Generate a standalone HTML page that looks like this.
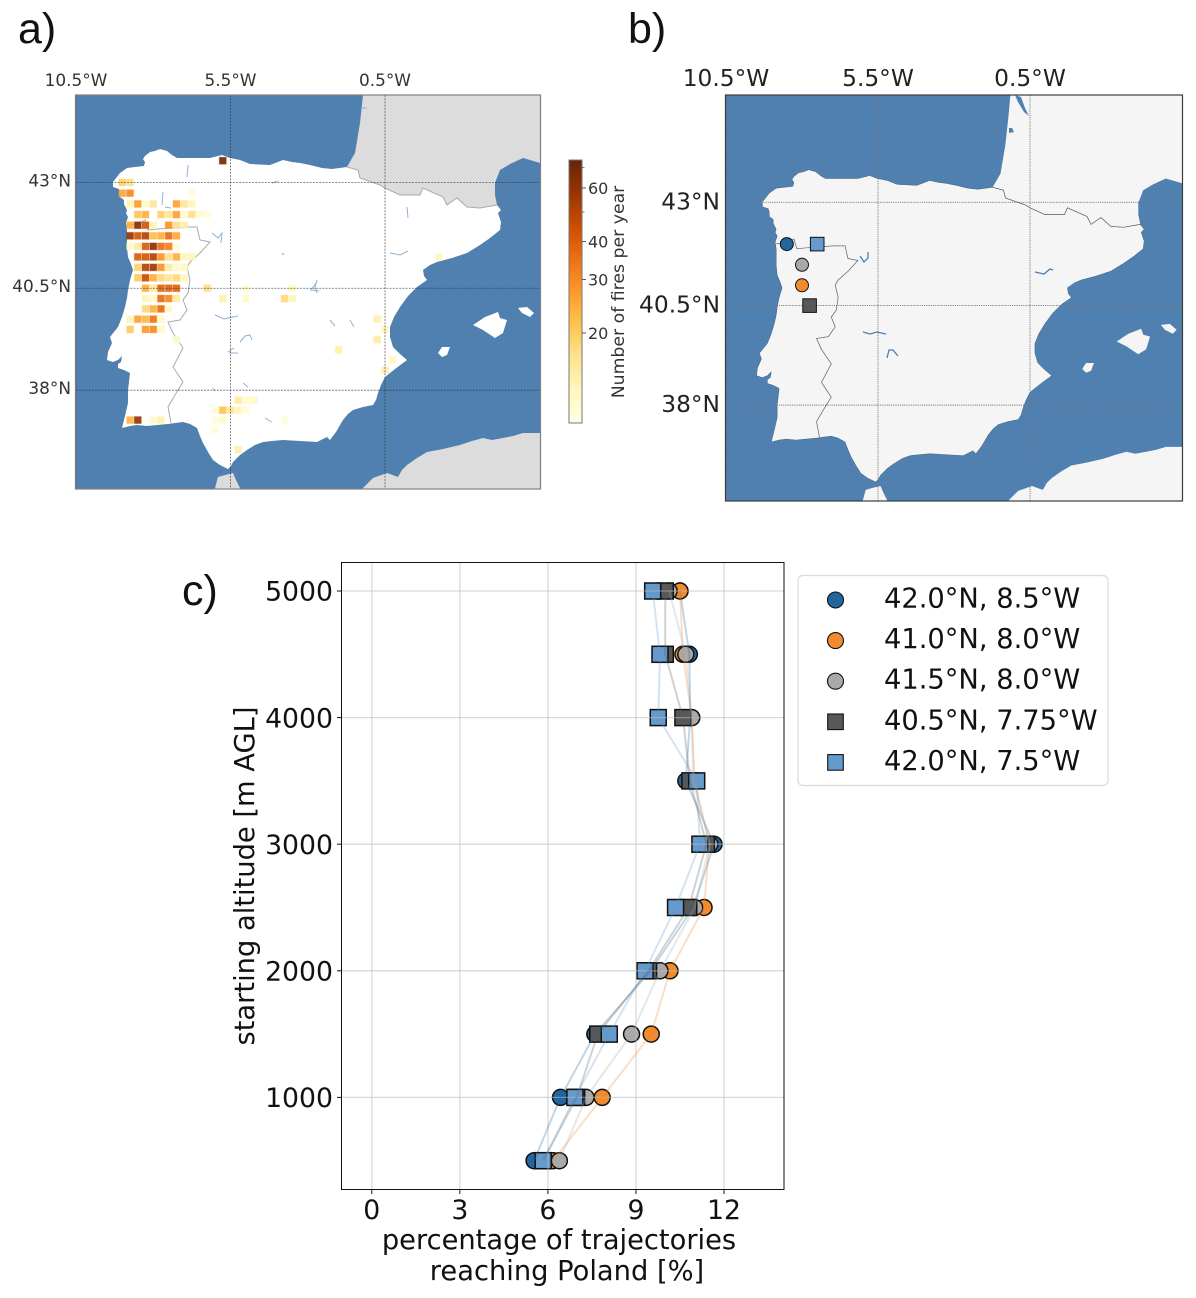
<!DOCTYPE html>
<html lang="en">
<head>
<meta charset="utf-8">
<title>Iberian fires and trajectories</title>
<style>
html,body{margin:0;padding:0;background:#fff;width:1196px;height:1298px;overflow:hidden}
svg{display:block;font-family:"DejaVu Sans","Liberation Sans",sans-serif}
.letter{font-family:"Liberation Sans",sans-serif;font-size:43px;fill:#111}
</style>
</head>
<body>
<svg id="fig" xmlns="http://www.w3.org/2000/svg" width="1196" height="1298" viewBox="0 0 1196 1298">
<defs>
  <clipPath id="clipA"><rect x="76" y="95" width="464" height="394"/></clipPath>
  <clipPath id="clipB"><rect x="726" y="95" width="456" height="406"/></clipPath>
  <linearGradient id="cbGrad" x1="0" y1="1" x2="0" y2="0"></linearGradient>
  <path id="iberia" d="M347,167 L332,169 L322,168 L310,165 L300,163 L292,162 L283,160 L270,165 L250,164 L240,160 L230,158 L222,155 L210,158 L187,158 L177,158 L172,155 L167,151 L160,149 L155,151 L150,152 L145,156 L143,159 L145,162 L144,166 L135,167 L127,168 L120,173 L113,182 L113,187 L119,189 L120,193 L120,197 L124,200 L124,204 L127,210 L126,213 L128,217 L126,223 L127,230 L127,237 L127,247 L128,257 L131,264 L133,270 L130,280 L128,290 L127,298 L125,307 L122,317 L118,327 L110,337 L112,343 L108,352 L107,360 L113,362 L118,360 L122,356 L121,362 L118,364 L118,368 L124,370 L130,373 L129,382 L128,390 L128,403 L125,416 L122,428 L130,426 L137,425 L147,426 L157,425 L168,424 L175,423 L183,422 L190,424 L197,428 L200,436 L203,443 L208,452 L213,460 L220,465 L228,469 L231,466 L233,462 L240,455 L247,450 L255,445 L263,442 L272,441 L283,440 L300,441 L317,442 L327,437 L330,440 L336,432 L343,420 L348,414 L353,410 L363,407 L373,405 L376,400 L378,393 L381,385 L385,377 L395,369 L407,360 L400,354 L393,347 L390,337 L390,327 L394,317 L400,307 L408,296 L417,287 L427,280 L424,276 L423,270 L430,265 L437,262 L452,258 L467,253 L480,245 L490,238 L500,230 L501,222 L498,213 L501,210 L497,205 L480,208 L467,207 L457,198 L447,205 L443,197 L423,188 L420,195 L400,195 L385,188 L380,185 L360,178 L358,170 Z"/>
  <path id="france" d="M365,73 L363,95 L360,123 L355,153 L347,167 L358,170 L360,178 L380,185 L385,188 L400,195 L420,195 L423,188 L443,197 L447,205 L457,198 L467,207 L480,208 L497,205 L495,195 L495,183 L500,170 L510,164 L523,158 L530,160 L540,163 L560,163 L560,73 Z"/>
  <path id="africa" d="M215,495 L215,488 L218,477 L225,475 L233,473 L236,480 L240,488 L241,495 Z M358,495 L363,488 L373,478 L387,473 L398,477 L402,470 L407,465 L417,458 L427,452 L443,449 L460,445 L472,441 L483,438 L492,440 L503,438 L513,436 L523,433 L560,433 L560,495 Z"/>
  <path id="balearics" d="M473,325 L485,317 L498,312 L500,318 L507,320 L503,333 L495,338 L483,330 Z M518,308 L527,307 L534,313 L530,317 L522,313 Z M438,353 L442,347 L450,347 L447,355 L442,357 Z"/>
  <path id="borders" d="M347,167 L358,170 L360,178 L380,185 L385,188 L400,195 L420,195 L423,188 L443,197 L447,205 L457,198 L467,207 L480,208 L497,205 M127,225 L138,224 L145,220 L148,230 L158,229 L170,228 L185,227 L197,227 L200,240 L210,242 L200,253 L190,262 L187,267 L190,280 L188,293 L183,300 L187,310 L180,320 L168,322 L173,333 L183,348 L173,367 L183,382 L178,390 L168,407 L171,423"/>
</defs>

<g>
  <text class="letter" x="18" y="43">a)</text>
  <g clip-path="url(#clipA)">
    <rect x="76" y="95" width="464" height="394" fill="#5080b0"/>
    <use href="#france" fill="#dcdcdc"/>
    <use href="#africa" fill="#dcdcdc"/>
    <use href="#iberia" fill="#ffffff"/>
    <use href="#balearics" fill="#ffffff"/>
    <use href="#borders" fill="none" stroke="#aaaaaa" stroke-width="1"/>
    <path d="M188,165 L187,177 M163,192 L162,205 M165,207 L171,208 M212,233 L218,238 L222,233 L221,243 M282,253 L284,255 M278,181 L272,183 M215,315 L224,319 L238,316 M240,342 L245,336 L250,335 L252,340 M228,352 L234,348 M229,353 L238,353 M317,280 L315,287 L317,293 M390,253 L400,255 L408,251 M317,282 L311,290 L319,291 M330,320 L335,326 M350,320 L354,327 M407,207 L408,218 M243,383 L248,387 M265,418 L272,422 M213,388 L215,391 M362,108 L367,108" fill="none" stroke="#8fb2d4" stroke-width="1"/>
    <g id="firesLayer"></g>
    <g id="gridA"></g>
  </g>
  <rect x="75.5" y="95" width="465" height="394" fill="none" stroke="#808080" stroke-width="1.2"/>
  <g id="labelsA"></g>
  <rect x="569" y="160" width="13" height="263" fill="url(#cbGrad)" stroke="#777" stroke-width="1"/>
  <g id="cbTicks"></g>
  <text x="624" y="292" transform="rotate(-90 624 292)" text-anchor="middle" font-size="17.3" fill="#333">Number of fires per year</text>
</g>

<g>
  <text class="letter" x="628" y="43">b)</text>
  <g clip-path="url(#clipB)">
    <rect x="726" y="95" width="456" height="406" fill="#5080b0"/>
    <g transform="matrix(.984 0 0 .976 651.2 24.3)">
      <use href="#france" fill="#f5f5f5"/>
      <use href="#africa" fill="#f5f5f5"/>
      <use href="#iberia" fill="#f5f5f5" stroke="#3f5f80" stroke-width=".5"/>
      <use href="#balearics" fill="#f5f5f5"/>
      <use href="#borders" fill="none" stroke="#666" stroke-width=".75"/>
    </g>
    <path d="M1015,95 L1021,97 L1025,108 L1029,116 L1024,112 L1018,102 Z M1009,128 L1012,128 L1014,132 L1009,133 Z" fill="#5080b0"/>
    <path d="M860,256 L864,262 L868,258 L868,252 M863,332 L870,334 L877,332 L886,334 M887,358 L889,350 L893,350 L898,356 M1035,272 L1044,274 L1050,269 L1053,270" fill="none" stroke="#4f7fae" stroke-width="1.3"/>
    <g id="gridB"></g>
    <g id="sitesLayer"></g>
  </g>
  <rect x="725.5" y="95" width="457" height="406" fill="none" stroke="#3c3c3c" stroke-width="1.2"/>
  <g id="labelsB"></g>
</g>

<g>
  <text class="letter" x="182" y="605">c)</text>
  <g id="markersC"></g>
  <g id="gridC"></g>
  <g id="linesC"></g>
  <rect x="341.5" y="562.5" width="442.5" height="627" fill="none" stroke="#111" stroke-width="1"/>
  <g id="ticksC"></g>
  <text x="254" y="876" transform="rotate(-90 254 876)" text-anchor="middle" font-size="27.3" fill="#111">starting altitude [m AGL]</text>
  <text x="559" y="1249" text-anchor="middle" font-size="27.3" fill="#111">percentage of trajectories</text>
  <text x="567" y="1280" text-anchor="middle" font-size="27.3" fill="#111">reaching Poland [%]</text>
  <rect x="798" y="575.5" width="310" height="210" rx="5" fill="#fff" stroke="#dcdcdc" stroke-width="1.2"/>
  <g id="legendC"></g>
</g>
</svg>

<script>
/* ---- panel a data ---- */
const fireLats = [43.5, 43, 42.75, 42.5, 42.25, 42, 41.75, 41.5, 41.25, 41, 40.75, 40.5, 40.25, 40, 39.75, 39.5, 39.25, 39, 38.75, 38.5, 37.75, 37.5, 37.25, 37, 36.5];
const fireLons = [
  [-5.75],
  [-9, -8.75],
  [-9, -8.75, -6.75],
  [-8.75, -8.5, -8.25, -8, -7.25, -7, -6.75],
  [-8.5, -8.25, -7.75, -7.5, -7.25, -7, -6.75, -6.5, -6.25],
  [-8.75, -8.5, -8.25, -8, -7.5, -7.25, -7],
  [-8.75, -8.5, -8.25, -8, -7.75, -7.5, -7.25],
  [-8.75, -8.5, -8.25, -8, -7.75, -7.5, -7.25],
  [-8.5, -8.25, -8, -7.75, -7.5, -7.25, -7, -6.75, 1.25],
  [-8.5, -8.25, -8, -7.75, -7.5, -7.25, -7],
  [-8.5, -8.25, -8, -7.75, -7.5, -7.25, -7],
  [-8.25, -8, -7.75, -7.5, -7.25, -6.25, -5, -3.5],
  [-8.25, -8, -7.75, -7.5, -7.25, -5.75, -5, -3.75, -3.5],
  [-8.25, -8, -7.75, -7.5],
  [-8.75, -8.5, -8.25, -8, -7.75, -0.75],
  [-8.75, -8.25, -8, -7.75, -0.5],
  [-7.25, -0.75],
  [-2],
  [-0.25],
  [-0.5],
  [-5.25, -5, -4.75],
  [-6, -5.75, -5.5, -5.25, -5],
  [-8.75, -8.5, -8, -7.75, -6, -5.75, -3.75],
  [-6],
  [-5.25]
];
const fireValues = [
  [68],
  [19, 17],
  [25, 30, 11],
  [13, 27, 12, 16, 26, 16, 13],
  [21, 24, 19, 16, 26, 11.5, 17, 11.5, 10.5],
  [24, 62, 42, 13, 28, 17, 14],
  [58, 42, 50, 22, 24, 36, 25],
  [12, 15, 40, 62, 36, 32, 11],
  [40, 42, 50, 28, 17, 24, 13, 13, 12.5],
  [19, 50, 56, 28, 15, 12, 12],
  [20, 46, 24, 18, 16, 18, 13],
  [24, 15, 38, 38, 38, 17, 11, 12],
  [13, 11.5, 36, 30, 15, 14, 12, 18, 13],
  [18, 24, 36, 12],
  [13, 26, 23, 34, 12, 14],
  [20, 27, 30, 12, 13],
  [12, 15],
  [14],
  [12.5],
  [14],
  [15, 11.5, 12],
  [11, 21, 16, 13, 11],
  [23, 58, 11.5, 14, 10.5, 12, 10.5],
  [11],
  [14]
];
const colorStops = ['#ffffe5', '#fff7bc', '#fee391', '#fec44f', '#fe9929', '#ec7014', '#cc4c02', '#993404', '#662506'];
const colorbarMajorTicks = [20, 30, 40, 60];
const colorbarMinorTicks = [50, 70];
const mapLonTicks = [-10.5, -5.5, -0.5];
const mapLonLabels = ['10.5°W', '5.5°W', '0.5°W'];
const mapLatTicks = [43, 40.5, 38];
const mapLatLabels = ['43°N', '40.5°N', '38°N'];

/* ---- panel b / c data ---- */
const seriesNames = ['42.0°N, 8.5°W', '41.0°N, 8.0°W', '41.5°N, 8.0°W', '40.5°N, 7.75°W', '42.0°N, 7.5°W'];
const seriesColors = ['#20679f', '#f28a2e', '#a9a9a9', '#585858', '#6699cc'];
const seriesShapes = ['circle', 'circle', 'circle', 'square', 'square'];
const siteLats = [42, 41, 41.5, 40.5, 42];
const siteLons = [-8.5, -8, -8, -7.75, -7.5];
const altitudes = [5000, 4500, 4000, 3500, 3000, 2500, 2000, 1500, 1000, 500];
const pctBlueCircle = [10.5, 10.82, 10.85, 10.7, 11.66, 10.95, 9.5, 7.6, 6.43, 5.53];
const pctOrangeCircle = [10.5, 10.6, 10.9, 11.0, 11.5, 11.32, 10.16, 9.52, 7.85, 6.18];
const pctGreyCircle = [10.13, 10.7, 10.9, 10.95, 11.52, 11.0, 9.82, 8.85, 7.3, 6.39];
const pctDarkSquare = [10.0, 10.0, 10.6, 10.84, 11.4, 10.8, 9.43, 7.7, 6.98, 5.84];
const pctBlueSquare = [9.57, 9.82, 9.76, 11.07, 11.18, 10.35, 9.31, 8.09, 6.92, 5.84];
const seriesValues = [pctBlueCircle, pctOrangeCircle, pctGreyCircle, pctDarkSquare, pctBlueSquare];
const xTicks = [0, 3, 6, 9, 12];
const yTicks = [1000, 2000, 3000, 4000, 5000];

/* ---- axis functions ---- */
const SVGNS = 'http://www.w3.org/2000/svg';
const merc = lat => Math.log(Math.tan(Math.PI / 4 + lat * Math.PI / 360));
const M43 = merc(43);
const axA = lon => 76 + (lon + 10.5) * 30.9;
const ayA = lat => 182.4 + (M43 - merc(lat)) * 1809;
const axB = lon => 726 + (lon + 10.5) * 30.4;
const ayB = lat => 202.3 + (M43 - merc(lat)) * 1766;
const cbY = v => 333 - Math.log(v / 20) * 132;
const cx = p => 371.8 + p * 29.35;
const cy = a => 591 + (5000 - a) * 0.1266;

function hexRgb(h) { return [1, 3, 5].map(i => parseInt(h.substr(i, 2), 16)); }
function fireColor(v) {
  const t = Math.max(0, Math.min(1, Math.log(v / 10) / Math.log(7.4))) * (colorStops.length - 1);
  const i = Math.min(colorStops.length - 2, Math.floor(t));
  const a = hexRgb(colorStops[i]), b = hexRgb(colorStops[i + 1]);
  const f = t - i;
  return 'rgb(' + a.map((c, k) => Math.round(c + (b[k] - c) * f)).join(',') + ')';
}
function make(tag, parentId, attrs, text) {
  const e = document.createElementNS(SVGNS, tag);
  for (const k in attrs) e.setAttribute(k, attrs[k]);
  if (text !== undefined) e.textContent = text;
  document.getElementById(parentId).appendChild(e);
  return e;
}

/* colorbar gradient */
colorStops.forEach((c, i) => {
  const s = document.createElementNS(SVGNS, 'stop');
  s.setAttribute('offset', (i / (colorStops.length - 1)));
  s.setAttribute('stop-color', c);
  document.getElementById('cbGrad').appendChild(s);
});

/* fires */
fireLats.forEach((lat, r) => {
  fireLons[r].forEach((lon, i) => {
    const c = fireColor(fireValues[r][i]);
    const cell = make('rect', 'firesLayer', { x: axA(lon) - 3.5, y: ayA(lat) - 3.5, width: 7, height: 7, fill: c, stroke: c, 'stroke-opacity': 0.3, 'stroke-width': 1, opacity: 0.92 });
    
    
  });
});

/* map grids and labels */
mapLonTicks.forEach((lon, i) => {
  const g1 = make('line', 'gridA', { x1: axA(lon), x2: axA(lon), y1: 95, y2: 489, stroke: '#333', 'stroke-opacity': 0.75, 'stroke-width': 0.8, 'stroke-dasharray': '2 1.2' });
  
  
  const t1 = make('text', 'labelsA', { x: axA(lon), y: 86, 'text-anchor': 'middle', 'font-size': 16.9, fill: '#333' }, mapLonLabels[i]);
  
  
  const g2 = make('line', 'gridB', { x1: axB(lon), x2: axB(lon), y1: 95, y2: 501, stroke: '#777', 'stroke-width': 0.9, 'stroke-dasharray': '1.2 1' });
  
  
  const t2 = make('text', 'labelsB', { x: axB(lon), y: 86, 'text-anchor': 'middle', 'font-size': 23.3, fill: '#222' }, mapLonLabels[i]);
  
  
});
mapLatTicks.forEach((lat, i) => {
  const g1 = make('line', 'gridA', { x1: 76, x2: 540, y1: ayA(lat), y2: ayA(lat), stroke: '#333', 'stroke-opacity': 0.75, 'stroke-width': 0.8, 'stroke-dasharray': '2 1.2' });
  
  
  const t1 = make('text', 'labelsA', { x: 71, y: ayA(lat) + 4, 'text-anchor': 'end', 'font-size': 16.9, fill: '#333' }, mapLatLabels[i]);
  
  
  const g2 = make('line', 'gridB', { x1: 726, x2: 1182, y1: ayB(lat), y2: ayB(lat), stroke: '#777', 'stroke-width': 0.9, 'stroke-dasharray': '1.2 1' });
  
  
  const t2 = make('text', 'labelsB', { x: 720, y: ayB(lat) + 7, 'text-anchor': 'end', 'font-size': 23.3, fill: '#222' }, mapLatLabels[i]);
  
  
});

/* colorbar ticks */
colorbarMajorTicks.forEach(v => {
  const l = make('line', 'cbTicks', { x1: 582, x2: 586, y1: cbY(v), y2: cbY(v), stroke: '#555', 'stroke-width': 1 });
  
  
  const t = make('text', 'cbTicks', { x: 588, y: cbY(v) + 6, 'font-size': 16, fill: '#333' }, String(v));
  
  
});
colorbarMinorTicks.forEach(v => {
  const l = make('line', 'cbTicks', { x1: 582, x2: 584.5, y1: cbY(v), y2: cbY(v), stroke: '#555', 'stroke-width': 0.8 });
  
  
});

/* marker helper */
function marker(parentId, shape, x, y, half, color, sw) {
  if (shape === 'circle') {
    return make('circle', parentId, { cx: x, cy: y, r: half, fill: color, stroke: '#111', 'stroke-width': sw });
  }
  return make('rect', parentId, { x: x - half, y: y - half, width: 2 * half, height: 2 * half, fill: color, stroke: '#111', 'stroke-width': sw });
}

/* panel b site markers */
seriesNames.forEach((n, i) => {
  const m = marker('sitesLayer', seriesShapes[i], axB(siteLons[i]), ayB(siteLats[i]), seriesShapes[i] === 'circle' ? 6.5 : 6.8, seriesColors[i], 1);
  
  
});

/* panel c markers */
seriesValues.forEach((vals, s) => {
  vals.forEach((v, i) => {
    const m = marker('markersC', seriesShapes[s], cx(v), cy(altitudes[i]), 8, seriesColors[s], 1.5);
    
    
  });
});

/* panel c lines */
seriesValues.forEach((vals, s) => {
  const pts = vals.map((v, i) => cx(v).toFixed(1) + ',' + cy(altitudes[i]).toFixed(1)).join(' ');
  const l = make('polyline', 'linesC', { points: pts, fill: 'none', stroke: seriesColors[s], 'stroke-opacity': 0.28, 'stroke-width': 2 });
  
  
});

/* panel c grid and ticks */
xTicks.forEach(v => {
  const g = make('line', 'gridC', { x1: cx(v), x2: cx(v), y1: 563, y2: 1189, stroke: '#bbb', 'stroke-opacity': 0.55, 'stroke-width': 1.3 });
  
  
  const k = make('line', 'ticksC', { x1: cx(v), x2: cx(v), y1: 1189.5, y2: 1194, stroke: '#111', 'stroke-width': 1 });
  
  
  const t = make('text', 'ticksC', { x: cx(v), y: 1219, 'text-anchor': 'middle', 'font-size': 26.7, fill: '#111' }, String(v));
  
  
});
yTicks.forEach(v => {
  const g = make('line', 'gridC', { x1: 342, x2: 784, y1: cy(v), y2: cy(v), stroke: '#bbb', 'stroke-opacity': 0.55, 'stroke-width': 1.3 });
  
  
  const k = make('line', 'ticksC', { x1: 337, x2: 341.5, y1: cy(v), y2: cy(v), stroke: '#111', 'stroke-width': 1 });
  
  
  const t = make('text', 'ticksC', { x: 333, y: cy(v) + 9.7, 'text-anchor': 'end', 'font-size': 26.7, fill: '#111' }, String(v));
  
  
});

/* legend */
seriesNames.forEach((n, i) => {
  const rowY = 600 + i * 40.6;
  const m = marker('legendC', seriesShapes[i], 835.5, rowY, seriesShapes[i] === 'circle' ? 8 : 7.8, seriesColors[i], 1.1);
  
  
  const t = make('text', 'legendC', { x: 884, y: rowY + 7.5, 'font-size': 27.3, fill: '#111' }, n);
  
  
});
</script>
</body>
</html>
